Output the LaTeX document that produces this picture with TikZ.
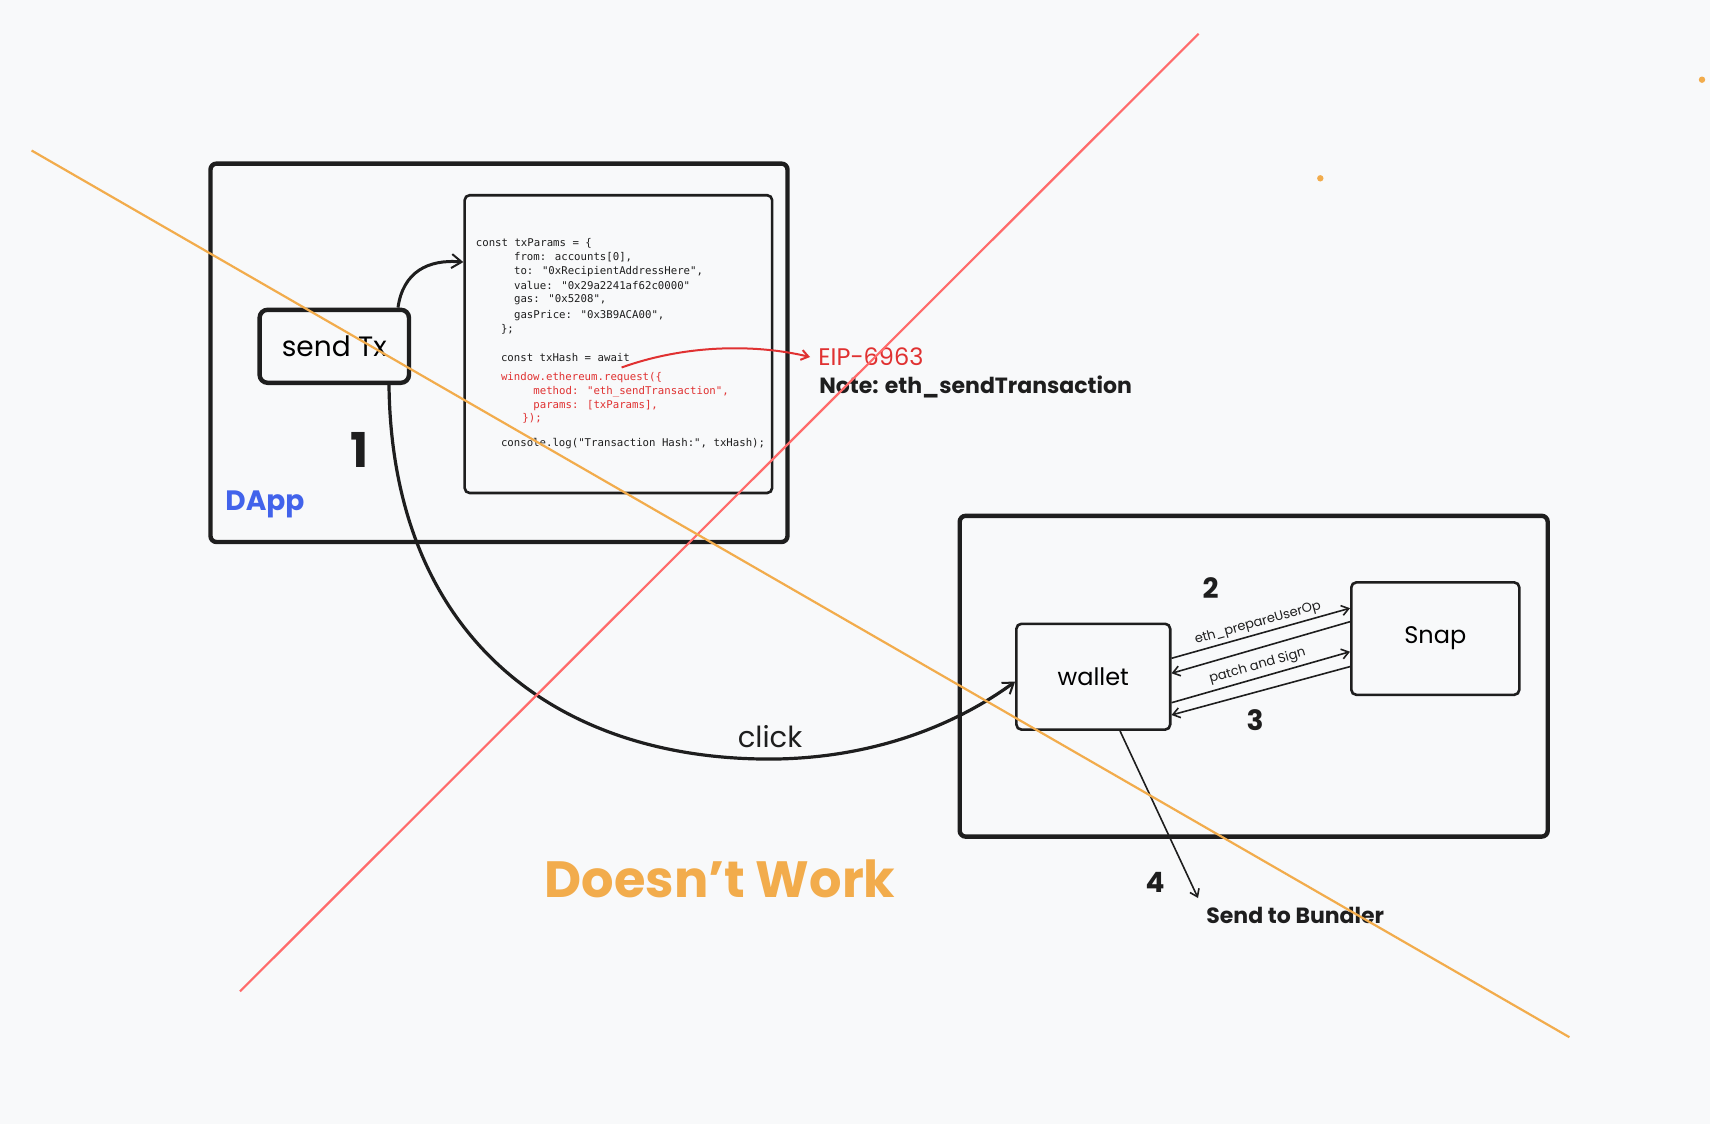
\documentclass[tikz,border=0pt]{standalone}
\usepackage{fontspec}
\setmainfont{Poppins}
\newfontfamily\codefont{DejaVu Sans Mono}
\usetikzlibrary{arrows.meta}
\definecolor{bg}{HTML}{F8F9FA}
\definecolor{ink}{HTML}{1E1E1E}
\definecolor{txtred}{HTML}{E03131}
\definecolor{linered}{HTML}{FF6B6B}
\definecolor{lineorange}{HTML}{F2AC4C}
\definecolor{dappblue}{HTML}{4263EB}
\tikzset{
  bigbox/.style={draw=ink, line width=2.2pt, rounded corners=3pt, minimum width=0pt, inner sep=0pt},
  midbox/.style={draw=ink, line width=1.3pt, rounded corners=2.5pt, inner sep=0pt},
  txbox/.style={draw=ink, line width=2.2pt, rounded corners=4pt, inner sep=0pt, font=\fontsize{14}{16}\selectfont},
  smallbox/.style={draw=ink, line width=1.3pt, rounded corners=2.5pt, inner sep=0pt, font=\fontsize{12}{14}\selectfont},
  codeline/.style={anchor=west, inner sep=0pt, text=ink, font=\codefont\fontsize{5.35}{6}\selectfont},
  codered/.style={codeline, text=txtred},
  hand/.style={inner sep=0pt, text=ink},
  tip/.style={-{Straight Barb[length=5pt, width=7pt, line width=1pt]}},
  thinarrow/.style={draw=ink, line width=0.8pt, -{Straight Barb[length=3.5pt, width=5pt]}},
}
\begin{document}
\begin{tikzpicture}[x=0.5pt, y=-0.5pt]
\fill[bg] (0,0) rectangle (1710,1124);
\useasboundingbox (0,0) rectangle (1710,1124);

% boxes
\node[bigbox, minimum width=288.5pt, minimum height=189.2pt] (dapp) at (499,352.8) {};
\node[midbox, minimum width=153.75pt, minimum height=148.9pt] (code) at (618.4,344.1) {};
\node[txbox, minimum width=74.7pt, minimum height=36.5pt] (sendtx) at (334.3,346.3) {send Tx};
\node[bigbox, minimum width=294pt, minimum height=160.4pt] (walletarea) at (1253.7,676.2) {};
\node[smallbox, minimum width=76.9pt, minimum height=52.9pt] (wallet) at (1093.3,676.7) {wallet};
\node[smallbox, minimum width=84pt, minimum height=56.2pt] (snap) at (1435.3,638.6) {Snap};

% code
\node[codeline] (c1) at (475.5,243.2) {const txParams = \{};
\node[codeline] (c2) at (513.7,257.4) {from: accounts[0],};
\node[codeline] (c3) at (513.7,271.6) {to: "0xRecipientAddressHere",};
\node[codeline] (c4) at (513.7,285.7) {value: "0x29a2241af62c0000"};
\node[codeline] (c5) at (513.7,299.9) {gas: "0x5208",};
\node[codeline] (c6) at (513.7,315.2) {gasPrice: "0x3B9ACA00",};
\node[codeline] (c7) at (500.6,329.4) {\};};
\node[codeline] (c8) at (500.6,357.7) {const txHash = await};
\node[codered] (c9) at (500.6,377.3) {window.ethereum.request(\{};
\node[codered] (c10) at (533,391.5) {method: "eth\_sendTransaction",};
\node[codered] (c11) at (533,405.7) {params: [txParams],};
\node[codered] (c12) at (522,418.8) {\});};
\node[codeline] (c13) at (500.6,443.9) {console.log("Transaction Hash:", txHash);};

% labels
\node[hand, font=\bfseries\fontsize{24}{26}\selectfont] (n1) at (360,450) {1};
\node[hand, font=\fontsize{14}{16}\selectfont\bfseries] (n2) at (1210.6,588) {2};
\node[hand, font=\fontsize{14}{16}\selectfont\bfseries] (n3) at (1255,720) {3};
\node[hand, font=\fontsize{14}{16}\selectfont\bfseries] (n4) at (1155,882) {4};
\node[hand, text=dappblue, font=\fontsize{14}{16}\selectfont\bfseries] (dapplabel) at (265,504) {DApp};
\node[hand, font=\fontsize{14.5}{16}\selectfont] (click) at (770,737) {click};
\node[hand, text=lineorange, font=\fontsize{25.5}{28}\selectfont\bfseries] (doesnt) at (720,879) {Doesn't Work};
\node[hand, anchor=west, font=\fontsize{11}{13}\selectfont\bfseries] (bundler) at (1206,915) {Send to Bundler};
\node[hand, anchor=west, text=txtred, font=\fontsize{12}{14}\selectfont] (eip) at (818,357) {EIP-6963};
\node[hand, anchor=west, font=\fontsize{11}{13}\selectfont\bfseries] (note) at (819,387) {Note: eth\_sendTransaction};

% connectors
\draw[ink, line width=1.5pt, tip] ([xshift=31.85pt]sendtx.north) .. controls (403,272) and (428,259) .. ([yshift=41pt]code.west);
\draw[ink, line width=1.6pt, tip] ([xshift=27.35pt]sendtx.south) .. controls (392,640) and (560,762) .. (777,759)
  .. controls (880,757) and (960,722) .. ([yshift=-2.45pt]wallet.west);
\coordinate (redstart) at (621.6,367.5);
\draw[txtred, line width=1pt, -{Straight Barb[length=3.5pt, width=5pt]}] (redstart) .. controls (690,343) and (760,345) .. ([xshift=-4pt]eip.west);

\draw[thinarrow] ([yshift=9.2pt]wallet.east) -- node[sloped, above=1.5pt, inner sep=0pt, font=\fontsize{6.5}{8}\selectfont, text=ink] (lblprep) {eth\_prepareUserOp} ([yshift=15.2pt]snap.west);
\draw[thinarrow] ([yshift=8.45pt]snap.west) -- ([yshift=1.7pt]wallet.east);
\draw[thinarrow] ([yshift=-13pt]wallet.east) -- node[sloped, above=2pt, inner sep=0pt, font=\fontsize{6.5}{8}\selectfont, text=ink] (lblpatch) {patch and Sign} ([yshift=-6.55pt]snap.west);
\draw[thinarrow] ([yshift=-14pt]snap.west) -- ([yshift=-19.15pt]wallet.east);
\coordinate (bundlertip) at (1198,898);
\draw[thinarrow] ([xshift=13.35pt]wallet.south) -- (bundlertip);

% crossing lines
\draw[linered, line width=1.1pt] (240,991.4) -- (1198.6,33.8);
\draw[lineorange, line width=1.1pt] (31.6,150.5) -- (1569.4,1037.2);
\fill[lineorange] (1320.3,178.3) circle (1.6pt);
\fill[lineorange] (1702,79.7) circle (1.6pt);
\end{tikzpicture}
\end{document}
